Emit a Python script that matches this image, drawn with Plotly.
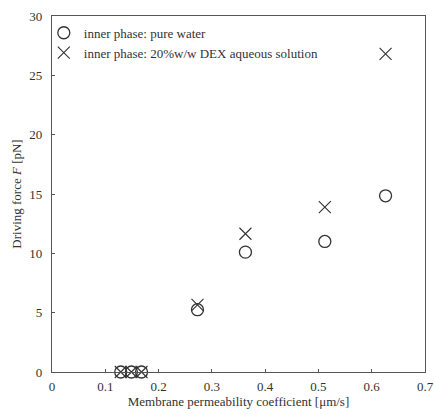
import plotly.graph_objects as go

# Data
perm_water = [0.129, 0.149, 0.168, 0.273, 0.363, 0.512, 0.626]
force_water = [0.0, 0.0, 0.0, 5.25, 10.1, 11.0, 14.85]

perm_dex = [0.129, 0.149, 0.168, 0.273, 0.363, 0.512, 0.626]
force_dex = [0.0, 0.0, 0.0, 5.65, 11.65, 13.9, 26.8]

x_ticks = [0, 0.1, 0.2, 0.3, 0.4, 0.5, 0.6, 0.7]
x_tick_labels = ["0", "0.1", "0.2", "0.3", "0.4", "0.5", "0.6", "0.7"]
y_ticks = [0, 5, 10, 15, 20, 25, 30]

FONT = "Liberation Serif, Times New Roman, serif"
INK = "#333333"

fig = go.Figure()
fig.add_trace(go.Scatter(
    x=perm_water, y=force_water, mode="markers",
    name="inner phase: pure water", cliponaxis=False,
    marker=dict(symbol="circle-open", size=12, color=INK, line=dict(width=1.3, color=INK)),
))
fig.add_trace(go.Scatter(
    x=perm_dex, y=force_dex, mode="markers",
    name="inner phase: 20%w/w DEX aqueous solution", cliponaxis=False,
    marker=dict(symbol="x-thin-open", size=12, color=INK, line=dict(width=1.1, color=INK)),
))

axis_common = dict(
    showgrid=False, zeroline=False, showline=True, mirror=True,
    linecolor="#555555", linewidth=1.3, automargin=False,
    ticks="inside", ticklen=3, tickcolor="#555555",
    tickfont=dict(family=FONT, size=13, color=INK),
)

fig.update_layout(
    width=434, height=414,
    margin=dict(l=52, r=9, t=16, b=42),
    paper_bgcolor="white", plot_bgcolor="white",
    font=dict(family=FONT, size=13, color=INK),
    showlegend=True,
    legend=dict(
        x=-0.022, y=0.995, xanchor="left", yanchor="top",
        bgcolor="rgba(0,0,0,0)", borderwidth=0,
        font=dict(family=FONT, size=13, color=INK),
        itemwidth=30, tracegroupgap=0,
    ),
    xaxis=dict(
        range=[0, 0.7], tickvals=x_ticks, ticktext=x_tick_labels,
        ticklabelstandoff=2,
        title=dict(text="Membrane permeability coefficient [μm/s]", standoff=4,
                   font=dict(family=FONT, size=13, color=INK)),
        **axis_common,
    ),
    yaxis=dict(
        range=[0, 30], tickvals=y_ticks,
        ticklabelstandoff=6,
        title=dict(text="Driving force <i>F</i> [pN]", standoff=4,
                   font=dict(family=FONT, size=13, color=INK)),
        **axis_common,
    ),
)

fig.write_html("out.html", config={"displayModeBar": False},
               post_script="document.body.style.margin='0';")
